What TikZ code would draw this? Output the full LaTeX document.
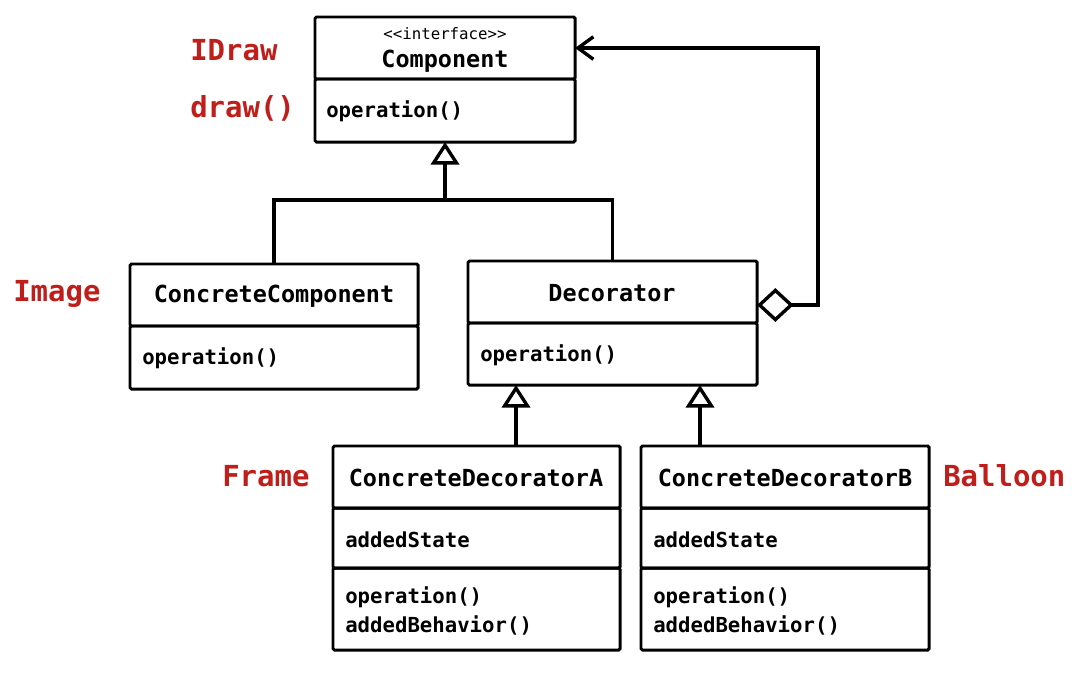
\documentclass[tikz,border=0pt]{standalone}
\usepackage{fontspec}
\newfontfamily\umlfont{DejaVu Sans Mono}
\usetikzlibrary{arrows.meta}
\definecolor{notered}{RGB}{192,30,26}

\tikzset{
  part/.style={draw, line width=2.1pt, rounded corners=1pt, anchor=north west, inner sep=0pt, outer sep=0pt},
  classname/.style={font=\umlfont\bfseries\fontsize{16.7}{20}\selectfont, inner sep=0pt},
  stereo/.style={font=\umlfont\fontsize{11.2}{13}\selectfont, inner sep=0pt},
  member/.style={font=\umlfont\bfseries\fontsize{14.7}{18}\selectfont, anchor=west, inner sep=0pt},
  note/.style={font=\umlfont\bfseries\fontsize{20.6}{24}\selectfont, text=notered, anchor=west, inner sep=0pt},
  inherit/.style={-{Triangle[open, length=16pt, width=20pt]}, line width=2.4pt},
  aggr/.style={{Diamond[open, length=26pt, width=24pt]}-{Straight Barb[length=11pt, width=16pt]}, line width=2.4pt}
}

\begin{document}
\begin{tikzpicture}[x=0.025cm, y=-0.025cm]
\useasboundingbox (0,0) rectangle (1085,678);

% Component
\node[part, minimum width=6.5cm, minimum height=1.55cm] (comphead) at (315,17) {};
\node[part, minimum width=6.5cm, minimum height=1.575cm] (compbody) at (comphead.south west) {};
\node[stereo] (compster) at (445,34) {{<}{<}interface{>}{>}};
\node[classname] (compname) at (445,61) {Component};
\node[member] (compop) at (326,111) {operation()};

% ConcreteComponent
\node[part, minimum width=7.2cm, minimum height=1.55cm] (cchead) at (130,264) {};
\node[part, minimum width=7.2cm, minimum height=1.575cm] (ccbody) at (cchead.south west) {};
\node[classname] (ccname) at (274,296) {ConcreteComponent};
\node[member] (ccop) at (142,358) {operation()};

% Decorator
\node[part, minimum width=7.225cm, minimum height=1.55cm] (dechead) at (468,261) {};
\node[part, minimum width=7.225cm, minimum height=1.55cm] (decbody) at (dechead.south west) {};
\node[classname] (decname) at (612,293) {Decorator};
\node[member] (decop) at (480,355) {operation()};

% ConcreteDecoratorA
\node[part, minimum width=7.175cm, minimum height=1.55cm] (cdahead) at (333,446) {};
\node[part, minimum width=7.175cm, minimum height=1.5cm] (cdastate) at (cdahead.south west) {};
\node[part, minimum width=7.175cm, minimum height=2.05cm] (cdabody) at (cdastate.south west) {};
\node[classname] (cdaname) at (476,478) {ConcreteDecoratorA};
\node[member] (cdafield) at (345,540) {addedState};
\node[member] (cdaop) at (345,597) {operation()};
\node[member] (cdabeh) at (345,625) {addedBehavior()};

% ConcreteDecoratorB
\node[part, minimum width=7.2cm, minimum height=1.55cm] (cdbhead) at (641,446) {};
\node[part, minimum width=7.2cm, minimum height=1.5cm] (cdbstate) at (cdbhead.south west) {};
\node[part, minimum width=7.2cm, minimum height=2.05cm] (cdbbody) at (cdbstate.south west) {};
\node[classname] (cdbname) at (785,478) {ConcreteDecoratorB};
\node[member] (cdbfield) at (653,540) {addedState};
\node[member] (cdbop) at (653,597) {operation()};
\node[member] (cdbbeh) at (653,625) {addedBehavior()};

% notes
\node[note] (idraw) at (190,50) {IDraw};
\node[note] (drawop) at (190,108) {draw()};
\node[note] (image) at (13,294) {Image};
\node[note] (frame) at (222,476) {Frame};
\node[note] (balloon) at (943,476) {Balloon};

% connectors
\coordinate (branch) at (compbody.south |- 0,200);
\draw[line width=2.4pt] (cchead.north) |- (branch) -| (dechead.north);
\draw[inherit] (branch) -- (compbody.south);
\draw[inherit] (cdahead.north -| 516,0) -- (516,0 |- decbody.south);
\draw[inherit] (cdbhead.north -| 700,0) -- (700,0 |- decbody.south);
\coordinate (hook) at (818,305);
\draw[aggr] (dechead.east |- hook) -- (hook) |- (comphead.east);
\end{tikzpicture}
\end{document}
